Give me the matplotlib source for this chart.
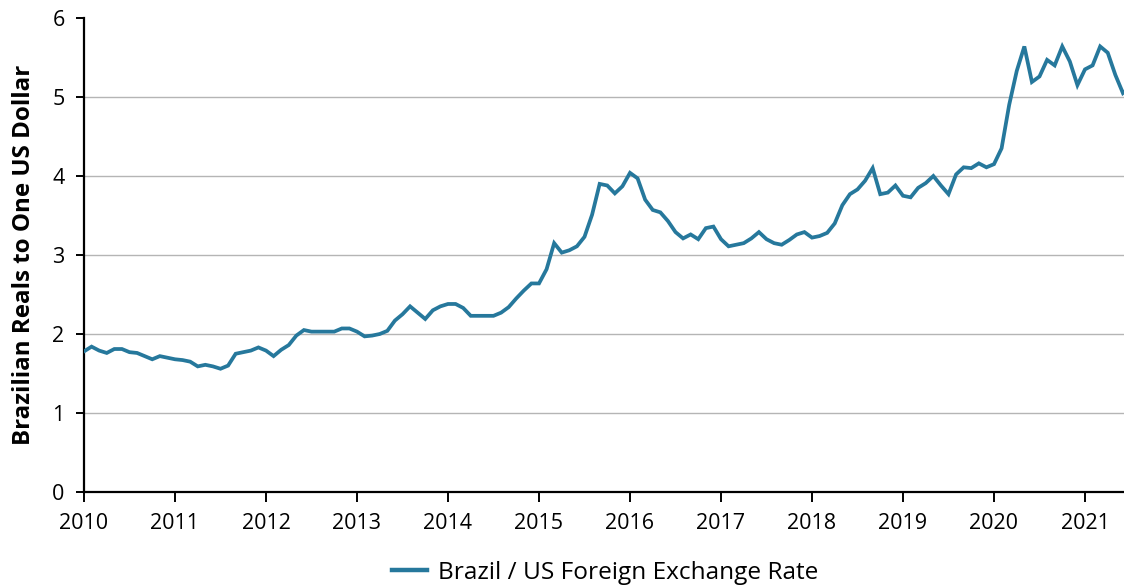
import numpy as np
import matplotlib
matplotlib.use("Agg")
import matplotlib.pyplot as plt

plt.rcParams['font.family'] = ['Open Sans', 'DejaVu Sans']

# Monthly average BRL per USD, January 2010 onward
start_year = 2010
brl_per_usd = [
    # 2010
    1.78, 1.84, 1.79, 1.76, 1.81, 1.81, 1.77, 1.76, 1.72, 1.68, 1.72, 1.70,
    # 2011
    1.68, 1.67, 1.65, 1.59, 1.61, 1.59, 1.56, 1.60, 1.75, 1.77, 1.79, 1.83,
    # 2012
    1.79, 1.72, 1.80, 1.86, 1.98, 2.05, 2.03, 2.03, 2.03, 2.03, 2.07, 2.07,
    # 2013
    2.03, 1.97, 1.98, 2.00, 2.04, 2.17, 2.25, 2.35, 2.27, 2.19, 2.30, 2.35,
    # 2014
    2.38, 2.38, 2.33, 2.23, 2.23, 2.23, 2.23, 2.27, 2.34, 2.45, 2.55, 2.64,
    # 2015
    2.64, 2.82, 3.15, 3.03, 3.06, 3.11, 3.23, 3.51, 3.90, 3.88, 3.78, 3.87,
    # 2016
    4.04, 3.97, 3.70, 3.57, 3.54, 3.43, 3.29, 3.21, 3.26, 3.20, 3.34, 3.36,
    # 2017
    3.20, 3.11, 3.13, 3.15, 3.21, 3.29, 3.20, 3.15, 3.13, 3.19, 3.26, 3.29,
    # 2018
    3.22, 3.24, 3.28, 3.40, 3.63, 3.77, 3.83, 3.94, 4.10, 3.77, 3.79, 3.88,
    # 2019
    3.75, 3.73, 3.85, 3.91, 4.00, 3.88, 3.77, 4.02, 4.11, 4.10, 4.16, 4.11,
    # 2020
    4.15, 4.35, 4.90, 5.33, 5.64, 5.19, 5.26, 5.47, 5.40, 5.64, 5.45, 5.15,
    # 2021
    5.35, 5.40, 5.64, 5.56, 5.28, 5.05, 5.13,
]
series_label = "Brazil / US Foreign Exchange Rate"
y_label = "Brazilian Reals to One US Dollar"
year_ticks = list(range(2010, 2022))
value_ticks = [0, 1, 2, 3, 4, 5, 6]

dates = start_year + np.arange(len(brl_per_usd)) / 12.0

W, H = 1124, 586
fig = plt.figure(figsize=(W / 100, H / 100), dpi=100)
ax = fig.add_axes([84 / W, 94 / H, 1040 / W, 474 / H])

line_color = "#26789c"
ax.plot(dates, brl_per_usd, color=line_color, lw=2.7, solid_joinstyle="miter",
        label=series_label, zorder=3)

ax.set_xlim(2010, 2021 + 39 / 91)
ax.set_ylim(0, 6)
ax.set_xticks(year_ticks)
ax.set_xticklabels([str(y) for y in year_ticks])
ax.set_yticks(value_ticks)

for v in value_ticks[1:-1]:
    ax.axhline(v, color="#b5b5b5", lw=1.0, zorder=1)

for side in ("top", "right"):
    ax.spines[side].set_visible(False)
for side in ("left", "bottom"):
    ax.spines[side].set_color("black")
    ax.spines[side].set_linewidth(1.6)

ax.tick_params(axis="x", direction="out", length=7, width=1.4, pad=8,
               labelsize=15.5, colors="black")
ax.tick_params(axis="y", direction="out", length=6, width=1.4, pad=8,
               labelsize=15.5, colors="black")

ax.set_ylabel(y_label, fontsize=17.4, fontweight="bold", labelpad=12)

leg = fig.legend(loc="center", bbox_to_anchor=(605 / W, 1 - 573 / H),
                 frameon=False, fontsize=17.6, handlelength=1.45,
                 handletextpad=0.42)
for h in leg.get_lines():
    h.set_linewidth(3.2)

fig.savefig("out.png", dpi=100)
